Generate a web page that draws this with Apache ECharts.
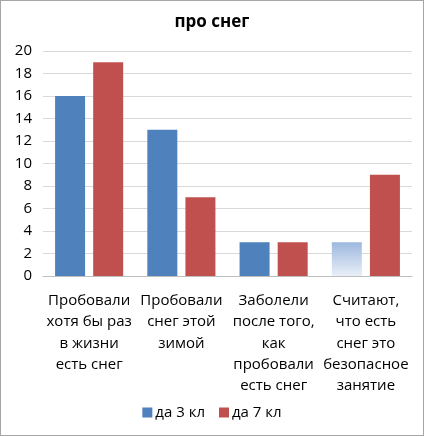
<!DOCTYPE html>
<html>
<head>
<meta charset="utf-8">
<script src="https://cdn.jsdelivr.net/npm/echarts@6/dist/echarts.min.js"></script>
<style>
  html, body { margin: 0; padding: 0; background: #fff; }
  #chart {
    width: 424px;
    height: 436px;
    box-sizing: border-box;
    border: 1px solid #a6a6a6;
  }
</style>
</head>
<body>
<div id="chart"></div>
<script>
const categories = [
  'Пробовали\nхотя бы раз\nв жизни\nесть снег',
  'Пробовали\nснег этой\nзимой',
  'Заболели\nпосле того,\nкак\nпробовали\nесть снег',
  'Считают,\nчто есть\nснег это\nбезопасное\nзанятие'
]
const seriesNames = ['да 3 кл', 'да 7 кл']
const grade3 = [16, 13, 3, 3]
const grade7 = [19, 7, 3, 9]
const yTicks = [0, 2, 4, 6, 8, 10, 12, 14, 16, 18, 20]

const blue = '#4f81bd'
const red = '#c0504d'
const font = '"Open Sans", "Noto Sans", sans-serif'

// last blue bar is drawn with a pale gradient in the original
const grade3Data = grade3.map((v, i) => i === 3
  ? {
      value: v,
      itemStyle: {
        color: new echarts.graphic.LinearGradient(0, 0, 0, 1, [
          { offset: 0, color: '#9db8de' },
          { offset: 1, color: '#e9eff8' }
        ])
      }
    }
  : v)

const chart = echarts.init(document.getElementById('chart'))
chart.setOption({
  animation: false,
  title: {
    text: 'про снег',
    left: 'center',
    top: 8,
    textStyle: { fontFamily: font, fontSize: 17, fontWeight: 'bold', color: '#000' }
  },
  legend: {
    data: seriesNames,
    bottom: 10,
    left: 'center',
    itemWidth: 10,
    itemHeight: 10,
    itemGap: 14,
    icon: 'rect',
    textStyle: { fontFamily: font, fontSize: 15, color: '#000', padding: [0, 0, 0, -2] }
  },
  grid: { left: 42, right: 11, top: 50, bottom: 159 },
  xAxis: {
    type: 'category',
    data: categories,
    axisTick: { show: false },
    axisLine: { lineStyle: { color: '#bfbfbf' } },
    axisLabel: {
      interval: 0,
      margin: 14,
      fontFamily: font,
      fontSize: 15,
      lineHeight: 21.3,
      color: '#000',
      align: 'center'
    }
  },
  yAxis: {
    type: 'value',
    min: yTicks[0],
    max: yTicks[yTicks.length - 1],
    interval: 2,
    axisLine: { show: false },
    axisTick: { show: false },
    axisLabel: { fontFamily: font, fontSize: 15, color: '#000', margin: 11 },
    splitLine: { lineStyle: { color: '#d9d9d9' } }
  },
  series: [
    {
      name: seriesNames[0],
      type: 'bar',
      data: grade3Data,
      barWidth: 30,
      barGap: '27%',
      itemStyle: { color: blue }
    },
    {
      name: seriesNames[1],
      type: 'bar',
      data: grade7,
      barWidth: 30,
      itemStyle: { color: red }
    }
  ]
})
</script>
</body>
</html>
